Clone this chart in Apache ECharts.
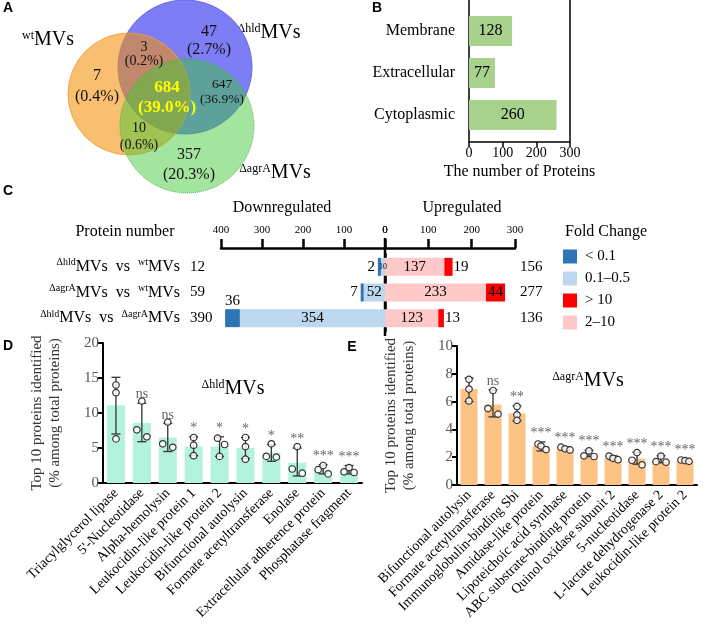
<!DOCTYPE html>
<html><head><meta charset="utf-8">
<script src="https://cdn.jsdelivr.net/npm/echarts@6/dist/echarts.min.js"></script>
<style>html,body{margin:0;padding:0;background:#fff}#c{width:708px;height:643px}</style>
</head><body><div id="c"></div>
<script>
const SERIF = '"Liberation Serif", "Times New Roman", serif';
const SANS = '"Liberation Sans", Arial, sans-serif';

// ---------- Panel A data ----------
const vennSets = ['wt', 'Δhld', 'ΔagrA'];
// regions: wt only, wt∩hld, hld only, all, hld∩agrA, wt∩agrA, agrA only
const vennCounts = [7, 3, 47, 684, 647, 10, 357];
const vennPercents = ['0.4%', '0.2%', '2.7%', '39.0%', '36.9%', '0.6%', '20.3%'];

// ---------- Panel B data ----------
const locCategories = ['Membrane', 'Extracellular', 'Cytoplasmic'];
const locCounts = [128, 77, 260];

// ---------- Panel C data ----------
const compRows = ['Δhld vs wt', 'ΔagrA vs wt', 'Δhld vs ΔagrA'];
const downTotals = [12, 59, 390];
const upTotals = [156, 277, 136];
const downLt01 = [2, 7, 36];
const down01to05 = [10, 52, 354];
const up2to10 = [137, 233, 123];
const upGt10 = [19, 44, 13];

// ---------- Panel D data ----------
const dNames = ['Triacylglycerol lipase', "5'-Nucleotidase", 'Alpha-hemolysin', 'Leukocidin-like protein 1',
  'Leukocidin-like protein 2', 'Bifunctional autolysin', 'Formate acetyltransferase', 'Enolase',
  'Extracellular adherence protein', 'Phosphatase fragment'];
const dMeans = [11.1, 8.6, 6.5, 5.2, 5.2, 5.0, 4.3, 2.9, 1.9, 1.8];
const dErrHigh = [15.1, 11.4, 8.5, 6.6, 6.6, 6.5, 5.5, 5.0, 2.6, 2.5];
const dErrLow = [7.0, 5.9, 4.5, 3.9, 3.8, 3.5, 3.1, 1.0, 1.3, 1.3];
const dDots = [[14.0, 12.9, 6.3], [11.7, 7.6, 6.6], [8.7, 5.6, 5.1], [6.5, 5.4, 3.9], [6.4, 5.5, 3.8],
  [6.5, 5.2, 3.4], [5.6, 3.8, 3.7], [5.2, 2.0, 1.4], [2.5, 1.9, 1.3], [2.2, 1.6, 1.5]];
const dSig = ['', 'ns', 'ns', '*', '*', '*', '*', '**', '***', '***'];

// ---------- Panel E data ----------
const eNames = ['Bifunctional autolysin', 'Formate acetyltransferase', 'Immunoglobulin-binding Sbi',
  'Amidase-like protein', 'Lipoteichoic acid synthase', 'ABC substrate-binding protein',
  'Quinol oxidase subunit 2', '5-nucleotidase', 'L-lactate dehydrogenase 2', 'Leukocidin-like protein 2'];
const eMeans = [6.9, 5.8, 5.15, 2.8, 2.6, 2.2, 1.95, 1.9, 1.8, 1.75];
const eErrHigh = [7.7, 6.85, 5.7, 3.1, 2.75, 2.5, 2.1, 2.35, 2.1, 1.85];
const eErrLow = [6.0, 4.9, 4.6, 2.45, 2.5, 2.05, 1.82, 1.5, 1.6, 1.68];
const eDots = [[7.6, 6.9, 6.05], [6.8, 5.5, 5.1], [5.65, 5.05, 4.65], [2.95, 2.8, 2.55], [2.72, 2.6, 2.52],
  [2.45, 2.1, 2.05], [2.08, 1.92, 1.82], [2.33, 1.78, 1.45], [2.08, 1.68, 1.64], [1.8, 1.76, 1.7]];
const eSig = ['', 'ns', '**', '***', '***', '***', '***', '***', '***', '***'];

// ---------- Layout / style (not data) ----------
const vennCircleLayout = [ // draw order: hld (bottom), wt, agrA (top)
  { set: 1, cx: 185, cy: 67, r: 67, color: 'rgb(125,125,246)', border: 'rgba(100,100,230,0.9)', type: 'solid' },
  { set: 0, cx: 129, cy: 94, r: 61, color: 'rgba(245,145,10,0.58)', border: 'rgba(240,160,60,0.9)', type: 'solid' },
  { set: 2, cx: 187, cy: 126, r: 67, color: 'rgba(60,200,50,0.47)', border: 'rgba(70,170,70,0.9)', type: 'dotted' }
];
const vennLabelLayout = [
  { x: 97, y: 86, fs: 16, lh: 21 }, { x: 144, y: 54, fs: 14, lh: 14 }, { x: 209, y: 41, fs: 16, lh: 18 },
  { x: 167, y: 98, fs: 17, lh: 20, bold: true, color: '#ffff00' }, { x: 222, y: 92, fs: 13.5, lh: 15 },
  { x: 139, y: 137, fs: 14, lh: 17 }, { x: 189, y: 165, fs: 16, lh: 20 }
];
const vennSetLabelLayout = [{ x: 48, y: 40 }, { x: 269, y: 33 }, { x: 275, y: 173 }];
const dJitter = [[0, 0, 0], [0, -5, 5], [0, -5, 5], [0, 0, 0], [-2, 5, 0], [0, 0, 0], [0, -5, 5], [0, -5, 5], [0, -5, 5], [0, -5, 5]];
const eJitter = [[0, 0, 0], [0, -5, 5], [0, 0, 0], [-3, 0, 5], [-4, 0, 5], [0, -5, 5], [-4, 0, 5], [0, -5, 5], [0, -5, 5], [-4, 0, 4]];

const COL = { dark: '#2e75b6', light: '#bdd7ee', red: '#ff0000', pink: '#ffc9c9' };

function sup(setName) { return '{s|' + setName + '}{m|MVs}'; }
const rowRich = ['{s|Δhld}{n|MVs  vs  }{s|wt}{n|MVs}', '{s|ΔagrA}{n|MVs  vs  }{s|wt}{n|MVs}', '{s|Δhld}{n|MVs  vs  }{s|ΔagrA}{n|MVs}'];

function errRender(params, api) {
  const i = api.value(0);
  const lo = api.coord([i, api.value(1)]);
  const hi = api.coord([i, api.value(2)]);
  const w = 4.5;
  const st = { stroke: '#333', lineWidth: 1.3, fill: null };
  return { type: 'group', children: [
    { type: 'line', shape: { x1: lo[0], y1: lo[1], x2: hi[0], y2: hi[1] }, style: st },
    { type: 'line', shape: { x1: lo[0] - w, y1: lo[1], x2: lo[0] + w, y2: lo[1] }, style: st },
    { type: 'line', shape: { x1: hi[0] - w, y1: hi[1], x2: hi[0] + w, y2: hi[1] }, style: st }
  ] };
}

function barPanelSeries(xi, yi, means, lo, hi, dots, jit, sig, color, barW) {
  const dotData = [];
  dots.forEach((arr, i) => arr.forEach((v, k) => dotData.push({ value: [i, v], symbolOffset: [jit[i][k], 0] })));
  return [
    { type: 'bar', xAxisIndex: xi, yAxisIndex: yi, data: means, barWidth: barW, itemStyle: { color: color }, z: 2, silent: true },
    { type: 'custom', xAxisIndex: xi, yAxisIndex: yi, renderItem: errRender, encode: { x: 0, y: [1, 2] },
      data: means.map((m, i) => [i, lo[i], hi[i]]), z: 3, silent: true },
    { type: 'scatter', xAxisIndex: xi, yAxisIndex: yi, data: dotData, symbol: 'circle', symbolSize: 6.5, z: 4, silent: true,
      itemStyle: { color: 'rgba(255,255,255,0.85)', borderColor: '#333', borderWidth: 1.2, opacity: 1 } },
    { type: 'scatter', xAxisIndex: xi, yAxisIndex: yi, data: hi.map((h, i) => [i, h]), symbolSize: 1, z: 5, silent: true,
      itemStyle: { color: 'transparent', opacity: 1 },
      label: { show: true, position: 'top', distance: 1, formatter: p => sig[p.dataIndex], color: '#666', fontFamily: SERIF, fontSize: 14 } }
  ];
}

const yName = 'Top 10 proteins identified\n(% among total proteins)';
function catAxis(gi, names) {
  return { type: 'category', gridIndex: gi, data: names,
    axisLine: { lineStyle: { color: '#000', width: 2 } },
    axisTick: { alignWithLabel: true, length: 5, lineStyle: { color: '#000', width: 2 } },
    axisLabel: { rotate: 45, interval: 0, margin: 8, fontFamily: SERIF, fontSize: 14, color: '#000' } };
}
function valAxis(gi, max, interval) {
  return { type: 'value', gridIndex: gi, min: 0, max: max, interval: interval,
    axisLine: { show: true, lineStyle: { color: '#000', width: 2 } },
    axisTick: { show: true, length: 5, lineStyle: { color: '#000', width: 2 } },
    splitLine: { show: false },
    axisLabel: { fontFamily: SERIF, fontSize: 15, color: '#555', margin: 4 },
    name: yName, nameLocation: 'middle', nameGap: 39,
    nameTextStyle: { fontFamily: SERIF, fontSize: 15, lineHeight: 18, color: '#333' } };
}

const cX = (gi, max, inverse) => ({ type: 'value', gridIndex: gi, min: 0, max: max, interval: 100, inverse: inverse,
  position: 'top', offset: 6, showMinLabel: !inverse ? false : true,
  axisLine: { show: true, lineStyle: { color: '#000', width: 2.5 } },
  axisTick: { show: true, length: 9, lineStyle: { color: '#000', width: 2.5 } },
  splitLine: { show: false },
  axisLabel: { fontFamily: SERIF, fontSize: 11, color: '#000', margin: 12 } });

const txt = (x, y, text, o) => ({ type: 'text', x: x, y: y, silent: true,
  style: Object.assign({ text: text, fontFamily: SERIF, fontSize: 15, fill: '#000', align: 'center', verticalAlign: 'middle' }, o || {}) });
const letter = (x, y, t) => txt(x, y, t, { fontFamily: SANS, fontWeight: 'bold', fontSize: 14 });
const richSup = (fs, ss) => ({ s: { fontSize: ss, fontFamily: SERIF, fill: '#000', color: '#000', verticalAlign: 'top', lineHeight: ss },
  m: { fontSize: fs, fontFamily: SERIF, fill: '#000', color: '#000', lineHeight: fs } });

const option = {
  animation: false,
  backgroundColor: '#fff',
  grid: [
    { left: 0, top: 0, width: 350, height: 200, outerBoundsMode: 'none' },
    { left: 469, top: 10, width: 101, height: 126, outerBoundsMode: 'none' },
    { left: 221, top: 254, width: 164, height: 77, outerBoundsMode: 'none' },
    { left: 385, top: 254, width: 130, height: 77, outerBoundsMode: 'none' },
    { left: 103, top: 343, width: 259, height: 140, outerBoundsMode: 'none' },
    { left: 457, top: 346, width: 240, height: 139, outerBoundsMode: 'none' }
  ],
  legend: { data: ['< 0.1', '0.1–0.5', '> 10', '2–10'], orient: 'vertical', left: 563, top: 249, padding: 0,
    itemWidth: 14, itemHeight: 14, itemGap: 7, icon: 'rect', selectedMode: false,
    textStyle: { fontFamily: SERIF, fontSize: 15, color: '#000', padding: [0, 0, 0, 3] } },
  xAxis: [
    { type: 'value', gridIndex: 0, min: 0, max: 350, show: false },
    { type: 'value', gridIndex: 1, min: 0, max: 300, interval: 100, offset: 6,
      axisLine: { show: true, lineStyle: { color: '#000', width: 1.5 } },
      axisTick: { show: true, length: 5, lineStyle: { color: '#000', width: 1.5 } },
      splitLine: { show: false },
      axisLabel: { fontFamily: SERIF, fontSize: 14, color: '#000', margin: 4 },
      name: 'The number of Proteins', nameLocation: 'middle', nameGap: 22,
      nameTextStyle: { fontFamily: SERIF, fontSize: 16, color: '#000' } },
    cX(2, 400, true),
    cX(3, 300, false),
    catAxis(4, dNames),
    catAxis(5, eNames)
  ],
  yAxis: [
    { type: 'value', gridIndex: 0, min: 0, max: 200, inverse: true, show: false },
    { type: 'category', gridIndex: 1, data: locCategories, inverse: true,
      axisLine: { show: false }, axisTick: { show: false },
      axisLabel: { fontFamily: SERIF, fontSize: 16, color: '#000', margin: 14 } },
    { type: 'category', gridIndex: 2, data: compRows, inverse: true, position: 'left', offset: 35,
      axisLine: { show: true, lineStyle: { color: '#000', width: 2.5 } }, axisTick: { show: false },
      axisLabel: { margin: 6, formatter: (v, i) => rowRich[i],
        rich: { s: { fontSize: 10, fontFamily: SERIF, color: '#000', verticalAlign: 'top', lineHeight: 10 },
                n: { fontSize: 16, fontFamily: SERIF, color: '#000', lineHeight: 18 } } } },
    { type: 'category', gridIndex: 2, data: compRows, inverse: true, position: 'left', offset: 35,
      axisLine: { show: false }, axisTick: { show: false },
      axisLabel: { inside: true, margin: 4, formatter: (v, i) => String(downTotals[i]), fontFamily: SERIF, fontSize: 15, color: '#000' } },
    { type: 'category', gridIndex: 3, data: compRows, inverse: true, position: 'left',
      axisLine: { show: false }, axisTick: { show: false }, axisLabel: { show: false } },
    { type: 'category', gridIndex: 3, data: compRows, inverse: true, position: 'right',
      axisLine: { show: false }, axisTick: { show: false },
      axisLabel: { margin: 5, formatter: (v, i) => String(upTotals[i]), fontFamily: SERIF, fontSize: 15, color: '#000' } },
    valAxis(4, 20, 5),
    valAxis(5, 10, 2)
  ],
  series: [
    // Panel A circles
    { type: 'scatter', xAxisIndex: 0, yAxisIndex: 0, silent: true, z: 1,
      data: vennCircleLayout.map(L => ({ value: [L.cx, L.cy], symbolSize: 2 * L.r,
        itemStyle: { color: L.color, borderColor: L.border, borderWidth: 1, borderType: L.type, opacity: 1 } })) },
    // Panel A region labels
    { type: 'scatter', xAxisIndex: 0, yAxisIndex: 0, silent: true, z: 5, symbolSize: 1,
      itemStyle: { color: 'transparent', opacity: 1 },
      data: vennCounts.map((c, i) => { const L = vennLabelLayout[i]; return { value: [L.x, L.y],
        label: { show: true, position: 'inside', formatter: c + '\n(' + vennPercents[i] + ')', align: 'center',
          fontFamily: SERIF, fontSize: L.fs, lineHeight: L.lh, fontWeight: L.bold ? 'bold' : 'normal', color: L.color || '#111' } }; }) },
    // Panel B
    { type: 'bar', xAxisIndex: 1, yAxisIndex: 1, data: locCounts, barWidth: 30, silent: true,
      itemStyle: { color: '#a9d18e' },
      label: { show: true, position: 'inside', fontFamily: SERIF, fontSize: 16, color: '#000' } },
    // Panel C downregulated
    { name: '0.1–0.5', type: 'bar', xAxisIndex: 2, yAxisIndex: 2, stack: 'down', barWidth: 18, silent: true,
      itemStyle: { color: COL.light },
      data: down01to05.map((v, i) => ({ value: v, label: { fontSize: i === 0 ? 8 : 15 } })),
      label: { show: true, position: 'inside', fontFamily: SERIF, color: '#000' } },
    { name: '< 0.1', type: 'bar', xAxisIndex: 2, yAxisIndex: 2, stack: 'down', barWidth: 18, barMinHeight: 3, silent: true,
      itemStyle: { color: COL.dark },
      data: downLt01.map((v, i) => ({ value: v, label: { position: ['left', 'left', 'top'][i], distance: i === 2 ? 1 : 3 } })),
      label: { show: true, fontFamily: SERIF, fontSize: 15, color: '#000' } },
    // Panel C upregulated
    { name: '2–10', type: 'bar', xAxisIndex: 3, yAxisIndex: 4, stack: 'up', barWidth: 18, silent: true,
      itemStyle: { color: COL.pink },
      data: up2to10,
      label: { show: true, position: 'inside', fontFamily: SERIF, fontSize: 15, color: '#000' } },
    { name: '> 10', type: 'bar', xAxisIndex: 3, yAxisIndex: 4, stack: 'up', barWidth: 18, silent: true,
      itemStyle: { color: COL.red },
      data: upGt10.map((v, i) => ({ value: v, label: { position: ['right', 'inside', 'right'][i], distance: 1 } })),
      label: { show: true, fontFamily: SERIF, fontSize: 15, color: '#000' } }
  ].concat(
    barPanelSeries(4, 6, dMeans, dErrLow, dErrHigh, dDots, dJitter, dSig, '#b3f2dc', 18),
    barPanelSeries(5, 7, eMeans, eErrLow, eErrHigh, eDots, eJitter, eSig, '#fdc384', 17)
  ),
  graphic: [
    letter(8, 8, 'A'), letter(377, 8, 'B'), letter(8, 191, 'C'), letter(8, 346, 'D'), letter(352, 347, 'E'),
    ...vennSets.map((s, i) => txt(vennSetLabelLayout[i].x, vennSetLabelLayout[i].y, sup(s), { rich: richSup(20, 12) })),
    { type: 'line', silent: true, shape: { x1: 469, y1: 0, x2: 469, y2: 142 }, style: { stroke: '#000', lineWidth: 1.5 } },
    { type: 'line', silent: true, shape: { x1: 570, y1: 0, x2: 570, y2: 142 }, style: { stroke: '#000', lineWidth: 1.5 } },
    { type: 'line', silent: true, shape: { x1: 385, y1: 238, x2: 385, y2: 336 }, style: { stroke: '#000', lineWidth: 2.5 } },
    txt(125, 232, 'Protein number', { fontSize: 16 }),
    txt(282, 208, 'Downregulated', { fontSize: 16 }),
    txt(462, 208, 'Upregulated', { fontSize: 16 }),
    txt(565, 232, 'Fold Change', { fontSize: 16, align: 'left' }),
    txt(233, 389, sup('Δhld'), { rich: richSup(20, 12) }),
    txt(588, 381, sup('ΔagrA'), { rich: richSup(20, 12) })
  ]
};

const chart = echarts.init(document.getElementById('c'));
chart.setOption(option);
</script>
</body></html>
